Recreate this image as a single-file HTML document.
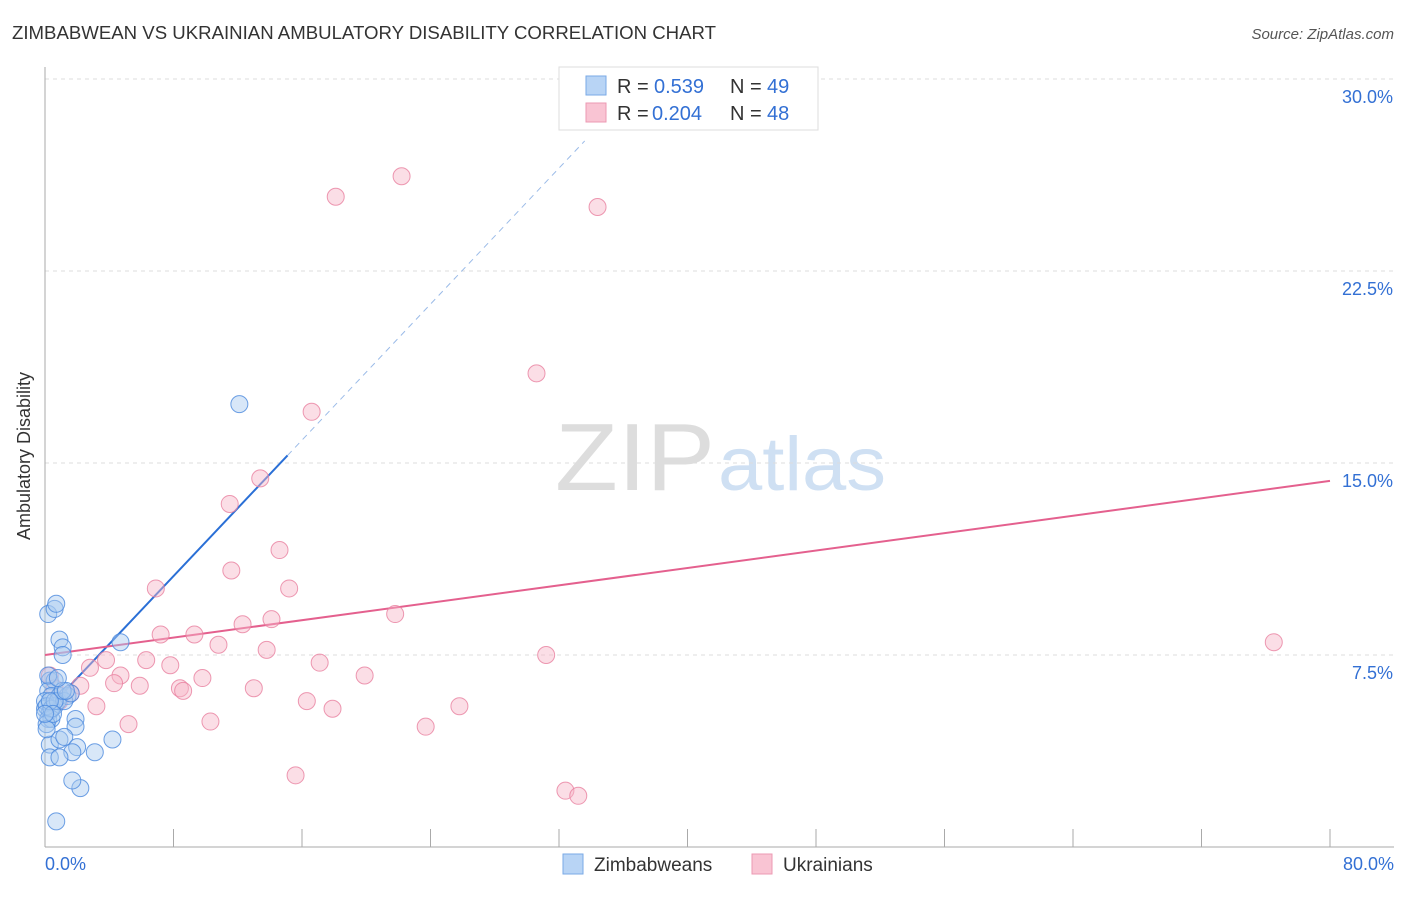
<!DOCTYPE html>
<html><head><meta charset="utf-8"><style>
body{margin:0;background:#fff;font-family:"Liberation Sans",sans-serif;}
svg text{font-family:"Liberation Sans",sans-serif;}
</style></head><body>
<svg id="chart" width="1406" height="892" xmlns="http://www.w3.org/2000/svg">
<text x="12" y="39" font-size="18" fill="#333" textLength="704" lengthAdjust="spacingAndGlyphs">ZIMBABWEAN VS UKRAINIAN AMBULATORY DISABILITY CORRELATION CHART</text>
<text x="1394" y="39" font-size="15" fill="#555" font-style="italic" text-anchor="end">Source: ZipAtlas.com</text>
<text x="30" y="456" font-size="18" fill="#333" text-anchor="middle" transform="rotate(-90 30 456)">Ambulatory Disability</text>
<g><text x="555" y="490" font-size="96" fill="#ddd" font-family="Liberation Serif" textLength="160" lengthAdjust="spacingAndGlyphs">ZIP</text><text x="718" y="490" font-size="76" fill="#cfe0f3" textLength="168" lengthAdjust="spacingAndGlyphs">atlas</text></g>
<g id="grid"></g><g id="axes"></g><g id="lines"></g><g id="points"></g>
<g>
<rect x="559" y="67" width="259" height="63" fill="#fff" stroke="#ddd"/>
<rect x="586" y="76" width="20" height="19" fill="#b8d4f5" stroke="#7aaae6"/>
<rect x="586" y="103" width="20" height="19" fill="#f9c4d3" stroke="#ec9ab3"/>
<text x="617" y="93" font-size="20" fill="#333">R =</text>
<text x="654" y="93" font-size="20" fill="#3370d4">0.539</text>
<text x="730" y="93" font-size="20" fill="#333">N =</text>
<text x="767" y="93" font-size="20" fill="#3370d4">49</text>
<text x="617" y="120" font-size="20" fill="#333">R =</text>
<text x="652" y="120" font-size="20" fill="#3370d4">0.204</text>
<text x="730" y="120" font-size="20" fill="#333">N =</text>
<text x="767" y="120" font-size="20" fill="#3370d4">48</text>
</g>
<g>
<rect x="563" y="854" width="20" height="20" fill="#b8d4f5" stroke="#7aaae6"/>
<text x="594" y="871" font-size="19" fill="#333">Zimbabweans</text>
<rect x="752" y="854" width="20" height="20" fill="#f9c4d3" stroke="#ec9ab3"/>
<text x="783" y="871" font-size="19" fill="#333">Ukrainians</text>
</g>
</svg>
<script>
const blueX=[0.2,0.6,0.7,0.9,1.1,1.1,0.3,0.6,0.2,0.4,0.9,1.4,0,0.3,0.6,0.2,0.4,1.9,1.9,0.3,0.9,1.2,2.0,1.7,0.3,0.9,3.1,2.2,1.7,0.7,4.2,4.7,12.1,0,0.1,0.4,0.8,1.2,1.6,0.1,0.1,0.6,1.1,1.3,0.2,0.8,0.3,0.5,0];
const blueY=[9.1,9.3,9.5,8.1,7.8,7.5,6.5,6.5,6.1,5.9,5.9,5.9,5.4,5.3,5.5,5.0,5.0,5.0,4.7,4.0,4.2,4.3,3.9,3.7,3.5,3.5,3.7,2.3,2.6,1.0,4.2,8.0,17.3,5.7,5.5,5.4,5.7,5.7,6.0,4.8,4.6,5.7,6.1,6.1,6.7,6.6,5.7,5.2,5.2];
const pinkX=[18.1,22.2,34.4,30.6,16.6,13.4,11.5,14.6,11.6,15.2,6.9,21.8,14.1,12.3,9.3,7.2,10.8,31.2,76.5,6.3,13.8,17.1,7.8,2.8,3.8,4.7,9.8,19.9,4.3,5.9,2.2,8.4,8.6,13.0,3.2,16.3,17.9,25.8,5.2,10.3,23.7,15.6,32.4,33.2,0.3,0.6,1.6,0.9];
const pinkY=[25.4,26.2,25.0,18.5,17.0,14.4,13.4,11.6,10.8,10.1,10.1,9.1,8.9,8.7,8.3,8.3,7.9,7.5,8.0,7.3,7.7,7.2,7.1,7.0,7.3,6.7,6.6,6.7,6.4,6.3,6.3,6.2,6.1,6.2,5.5,5.7,5.4,5.5,4.8,4.9,4.7,2.8,2.2,2.0,6.7,6.2,6.0,5.7];
const blueTrend=[5.27,0.664];
const pinkTrend=[7.5,0.085];
const yTicks=[7.5,15.0,22.5,30.0];
const xTickLabels=["0.0%","80.0%"];
const NS="http://www.w3.org/2000/svg";
const sx=v=>45+v*16.0625, sy=v=>847-v*25.6;
function mk(t,a,p){const e=document.createElementNS(NS,t);for(const k in a)e.setAttribute(k,a[k]);document.getElementById(p).appendChild(e);return e;}
yTicks.forEach(t=>{
 const l=mk('line',{x1:45,x2:1394,y1:sy(t),y2:sy(t),stroke:'#ddd','stroke-dasharray':'4,4'},'grid');
 
 
 const tx=mk('text',{x:1393,y:sy(t)+24,'font-size':18,fill:'#3370d4','text-anchor':'end'},'grid');
 tx.textContent=t.toFixed(1)+'%';
 
 
});
const ax=mk('line',{x1:45,x2:45,y1:67,y2:847,stroke:'#aaa'},'axes');


const bx=mk('line',{x1:45,x2:1394,y1:847,y2:847,stroke:'#aaa'},'axes');


for(let i=0;i<=10;i++){
 const t=mk('line',{x1:sx(i*8),x2:sx(i*8),y1:829,y2:847,stroke:'#aaa'},'axes');
 
 
}
[[0,'start',45],[80,'end',1394]].forEach((d,i)=>{
 const t=mk('text',{x:d[2],y:870,'font-size':18,fill:'#3370d4','text-anchor':d[1]},'axes');
 t.textContent=xTickLabels[i];
 
 
});
function pts(X,Y,f,s,n){X.forEach((x,i)=>{
 const c=mk('circle',{cx:sx(x),cy:sy(Y[i]),r:8.5,fill:f,'fill-opacity':0.45,stroke:s,'stroke-opacity':0.8,'stroke-width':1},'points');
 
 
});}
pts(pinkX,pinkY,'#f7b6c8','#e8809f','ukrainian-point');
pts(blueX,blueY,'#a9c9f0','#4a88dd','zimbabwean-point');
const bEnd=15.1, bDash=33.6;
const b1=mk('line',{x1:sx(0),y1:sy(blueTrend[0]),x2:sx(bEnd),y2:sy(blueTrend[0]+blueTrend[1]*bEnd),stroke:'#2a6fd6','stroke-width':2},'lines');


const b2=mk('line',{x1:sx(bEnd),y1:sy(blueTrend[0]+blueTrend[1]*bEnd),x2:sx(bDash),y2:sy(blueTrend[0]+blueTrend[1]*bDash),stroke:'#9bbbe8','stroke-width':1,'stroke-dasharray':'6,5'},'lines');


const p1=mk('line',{x1:sx(0),y1:sy(pinkTrend[0]),x2:sx(80),y2:sy(pinkTrend[0]+pinkTrend[1]*80),stroke:'#e4608e','stroke-width':2},'lines');


</script>
</body></html>
